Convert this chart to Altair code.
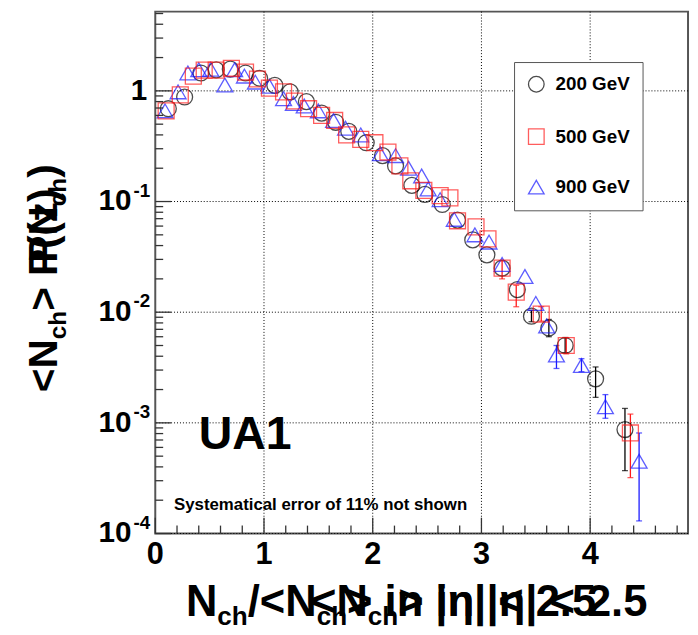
import altair as alt
import pandas as pd

FONT = "Liberation Sans"

series = ["200 GeV", "500 GeV", "900 GeV"]
colors = ["#000000", "#ff1a1a", "#1a1aff"]
shapes = ["circle", "square", "triangle-up"]

# 200 GeV (circles)
x200 = [0.12, 0.27, 0.42, 0.56, 0.69, 0.83, 0.96, 1.10, 1.24, 1.39, 1.53, 1.66, 1.78, 1.94,
        2.09, 2.21, 2.36, 2.48, 2.64, 2.78, 2.92, 3.05, 3.19, 3.33, 3.46, 3.62, 3.77, 4.05, 4.32]
y200 = [0.69, 0.88, 1.45, 1.55, 1.57, 1.45, 1.30, 1.12, 0.98, 0.80, 0.63, 0.52, 0.43, 0.34,
        0.26, 0.21, 0.14, 0.116, 0.094, 0.068, 0.045, 0.033, 0.025, 0.016, 0.0092, 0.0072, 0.0050, 0.0025, 0.00087]

# 500 GeV (squares)
x500 = [0.10, 0.23, 0.35, 0.45, 0.56, 0.70, 0.83, 0.94, 1.05, 1.18, 1.28, 1.41, 1.53, 1.65,
        1.76, 1.89, 2.02, 2.14, 2.25, 2.35, 2.47, 2.62, 2.71, 2.78, 2.95, 3.06, 3.19, 3.32, 3.55, 3.78, 4.37]
y500 = [0.66, 0.92, 1.36, 1.54, 1.54, 1.60, 1.48, 1.28, 1.06, 0.98, 0.81, 0.69, 0.60, 0.54,
        0.40, 0.365, 0.34, 0.28, 0.21, 0.154, 0.126, 0.113, 0.108, 0.067, 0.059, 0.046, 0.025, 0.0152, 0.0096, 0.0050, 0.00081]

# 900 GeV (triangles)
x900 = [0.09, 0.21, 0.30, 0.40, 0.51, 0.64, 0.73, 0.82, 0.92, 1.05, 1.18, 1.27, 1.37, 1.50,
        1.64, 1.75, 1.89, 2.07, 2.21, 2.33, 2.45, 2.51, 2.62, 2.75, 2.94, 3.07, 3.19, 3.40,
        3.50, 3.60, 3.69, 3.92, 4.14, 4.45]
y900 = [0.66, 0.98, 1.45, 1.55, 1.57, 1.13, 1.55, 1.36, 1.20, 1.10, 0.85, 0.77, 0.73, 0.66,
        0.54, 0.46, 0.40, 0.27, 0.26, 0.20, 0.17, 0.13, 0.104, 0.069, 0.050, 0.043, 0.027, 0.021,
        0.012, 0.0075, 0.0041, 0.0033, 0.0014, 0.00045]

# statistical error bars (tail points)
e200_x = [3.46, 3.62, 3.77, 4.05, 4.32]
e200_lo = [0.0082, 0.0060, 0.0043, 0.0017, 0.00037]
e200_hi = [0.0104, 0.0086, 0.0059, 0.0032, 0.00135]
e500_x = [3.19, 3.32, 3.55, 3.78, 4.37]
e500_lo = [0.020, 0.0112, 0.0083, 0.0042, 0.00032]
e500_hi = [0.029, 0.0175, 0.0112, 0.0059, 0.0012]
e900_x = [3.69, 3.92, 4.14, 4.45]
e900_lo = [0.0031, 0.0029, 0.0011, 0.00013]
e900_hi = [0.0050, 0.0038, 0.0018, 0.00081]

# axis ticks / labels
x_major = [0, 1, 2, 3, 4]
x_labels = ["0", "1", "2", "3", "4"]
x_grid = [1, 2, 3, 4]
x_minor = [0.2, 0.4, 0.6, 0.8, 1.2, 1.4, 1.6, 1.8, 2.2, 2.4, 2.6, 2.8, 3.2, 3.4, 3.6, 3.8, 4.2, 4.4, 4.6, 4.8]
y_major = [1e-4, 1e-3, 1e-2, 1e-1, 1]
y_grid = [1e-4, 1e-3, 1e-2, 1e-1, 1]
y_minor = [k * 10.0 ** e for e in [-4, -3, -2, -1, 0] for k in range(2, 10) if k * 10.0 ** e < 5.2]
y_dec_vals = [1e-4, 1e-3, 1e-2, 1e-1]
y_dec_exp = ["-4", "-3", "-2", "-1"]

W, H = 539, 528
xs = alt.Scale(domain=[0, 4.9], nice=False, zero=False)
ys = alt.Scale(type="log", domain=[1e-4, 5.2], nice=False)

pts = pd.concat([
    pd.DataFrame({"x": x200, "y": y200, "s": series[0]}),
    pd.DataFrame({"x": x900, "y": y900, "s": series[2]}),
    pd.DataFrame({"x": x500, "y": y500, "s": series[1]}),
], ignore_index=True)
pts["o"] = pts["s"].map({series[0]: 0, series[2]: 1, series[1]: 2})

cscale = alt.Scale(domain=series, range=colors)
sscale = alt.Scale(domain=series, range=shapes)

leg = alt.Legend(title=None, orient="none", legendX=363, legendY=51, padding=13,
                 strokeColor="#555555", fillColor="white", symbolSize=250,
                 symbolStrokeWidth=1.3, symbolFillColor="transparent",
                 labelFont=FONT, labelFontWeight="bold",
                 labelFontSize=19, labelColor="black", labelOffset=10, rowPadding=30,
                 labelExpr="datum.label + '      '")

X = lambda f: alt.X(f, scale=xs, axis=None)
Y = lambda f: alt.Y(f, scale=ys, axis=None)

gx = alt.Chart(pd.DataFrame({"v": x_grid})).mark_rule(color="black", strokeWidth=1, strokeDash=[1, 2]).encode(
    x=X("v:Q"))
gy = alt.Chart(pd.DataFrame({"v": y_grid})).mark_rule(color="black", strokeWidth=1, strokeDash=[1, 2]).encode(
    y=Y("v:Q"))

points = alt.Chart(pts).mark_point(filled=False, strokeWidth=1.3, size=260).encode(
    x=X("x:Q"), y=Y("y:Q"),
    color=alt.Color("s:N", scale=cscale, legend=leg),
    shape=alt.Shape("s:N", scale=sscale, legend=leg),
    order=alt.Order("o:Q"),
)

err_layers = []
for ex, lo, hi, col in [(e200_x, e200_lo, e200_hi, colors[0]),
                        (e500_x, e500_lo, e500_hi, colors[1]),
                        (e900_x, e900_lo, e900_hi, colors[2])]:
    d = pd.DataFrame({"x": ex, "lo": lo, "hi": hi})
    err_layers.append(alt.Chart(d).mark_rule(strokeWidth=1.3, color=col).encode(
        x=X("x:Q"), y=Y("lo:Q"), y2="hi:Q"))
    err_layers.append(alt.Chart(d).mark_tick(orient="horizontal", size=6, thickness=1.3, color=col).encode(
        x=X("x:Q"), y=Y("lo:Q")))
    err_layers.append(alt.Chart(d).mark_tick(orient="horizontal", size=6, thickness=1.3, color=col).encode(
        x=X("x:Q"), y=Y("hi:Q")))

TC = "#333333"
ytick_major = alt.Chart(pd.DataFrame({"v": y_major})).mark_rule(color=TC, strokeWidth=1.3).encode(
    y=Y("v:Q"), x=alt.value(0), x2=alt.value(16))
ytick_minor = alt.Chart(pd.DataFrame({"v": y_minor})).mark_rule(color=TC, strokeWidth=1.3).encode(
    y=Y("v:Q"), x=alt.value(0), x2=alt.value(8))
xtick_major = alt.Chart(pd.DataFrame({"v": x_major})).mark_rule(color=TC, strokeWidth=1.3).encode(
    x=X("v:Q"), y=alt.value(H), y2=alt.value(H - 16))
xtick_minor = alt.Chart(pd.DataFrame({"v": x_minor})).mark_rule(color=TC, strokeWidth=1.3).encode(
    x=X("v:Q"), y=alt.value(H), y2=alt.value(H - 8))

xlab = alt.Chart(pd.DataFrame({"v": x_major, "t": x_labels})).mark_text(
    font=FONT, fontWeight="bold", fontSize=31, align="center", baseline="top", color="black").encode(
    x=X("v:Q"), y=alt.value(H + 7), text="t:N")
ylab10 = alt.Chart(pd.DataFrame({"v": y_dec_vals, "e": y_dec_exp})).mark_text(
    font=FONT, fontWeight="bold", fontSize=30, align="right", baseline="middle", color="black").encode(
    y=Y("v:Q"), x=alt.value(-24), text=alt.value("10"))
ylabexp = alt.Chart(pd.DataFrame({"v": y_dec_vals, "e": y_dec_exp})).mark_text(
    font=FONT, fontWeight="bold", fontSize=19, align="left", baseline="middle", dy=-11, color="black").encode(
    y=Y("v:Q"), x=alt.value(-22), text="e:N")
ylab1 = alt.Chart(pd.DataFrame({"v": [1]})).mark_text(
    font=FONT, fontWeight="bold", fontSize=30, align="right", baseline="middle", color="black").encode(
    y=Y("v:Q"), x=alt.value(-8), text=alt.value("1"))

# Arial-Bold advance widths (per em)
WID = {' ': .278, '<': .584, '>': .584, 'N': .722, 'c': .556, 'h': .611, '/': .278, 'i': .278,
       'n': .611, '|': .280, 'η': .611, '2': .556, '.': .278, '5': .556, 'P': .667, '(': .333,
       ')': .333, 'z': .500}


def tw(s, fs):
    return sum(WID.get(ch, .6) for ch in s) * fs


def rich(pieces, x0, y0, F, angle=0, sub_ratio=0.6, sub_shift=0.22):
    out = []
    pos = 0.0
    for txt, sub in pieces:
        fs = F * sub_ratio if sub else F
        sh = F * sub_shift if sub else 0
        if angle == 0:
            px, py = x0 + pos, y0 + sh
        else:
            px, py = x0 + sh, y0 - pos
        out.append(alt.Chart(alt.Data(values=[{}])).mark_text(
            text=txt, font=FONT, fontWeight="bold", fontSize=fs, align="left",
            baseline="alphabetic", angle=angle, color="black").encode(
            x=alt.value(px), y=alt.value(py)))
        pos += tw(txt, fs)
    return out


def rich_width(pieces, F, sub_ratio=0.6):
    return sum(tw(t, F * sub_ratio if s else F) for t, s in pieces)


XT_A = [("N", 0), ("ch", 1), ("/<N", 0), ("ch", 1), ("> in |η| < 2.5", 0)]
XT_B = [("<N", 0), ("ch", 1), ("> in |η| < 2.5", 0)]
FX = 44
xa = rich(XT_A, 31, 611, FX)
xb = rich(XT_B, 498 - rich_width(XT_B, FX), 611, FX)

YT_A = [("<N", 0), ("ch", 1), ("> P(N", 0), ("ch", 1), (")", 0)]
YT_B = [("P(z)", 0)]
FY = 41
ya = rich(YT_A, -99, 385, FY, angle=270)
yb = rich(YT_B, -99, 254, FY, angle=270)

ua1 = alt.Chart(alt.Data(values=[{}])).mark_text(
    text="UA1", font=FONT, fontWeight="bold", fontSize=47, align="left", baseline="alphabetic",
    color="black").encode(x=alt.value(44), y=alt.value(442))
syst = alt.Chart(alt.Data(values=[{}])).mark_text(
    text="Systematical error of 11% not shown", font=FONT, fontWeight="bold", fontSize=17,
    align="left", baseline="alphabetic", color="black").encode(x=alt.value(19), y=alt.value(504))

chart = alt.layer(
    gx, gy, *err_layers, points,
    ytick_major, ytick_minor, xtick_major, xtick_minor,
    xlab, ylab10, ylabexp, ylab1, ua1, syst, *xa, *xb, *ya, *yb,
).properties(
    width=W, height=H,
    autosize=alt.AutoSizeParams(type="none"),
    padding={"left": 149, "top": 0, "right": 2, "bottom": 99},
    background="white",
).configure_view(stroke="#555555", strokeWidth=2)

chart.save("out.html", embed_options={"renderer": "svg", "actions": False})
